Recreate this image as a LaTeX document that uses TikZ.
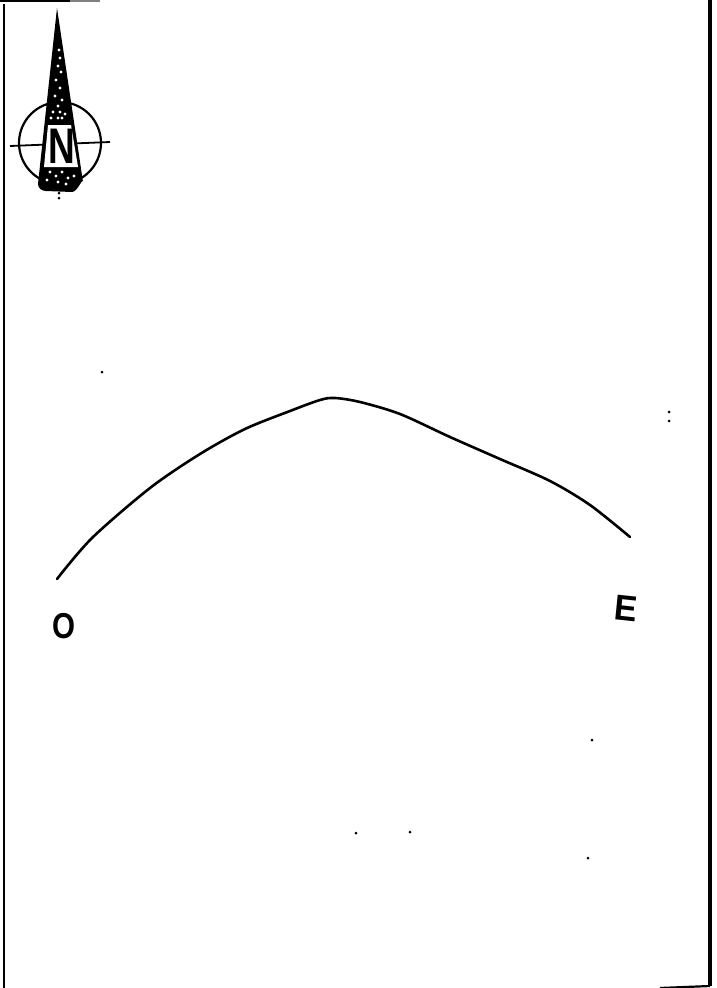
\documentclass[tikz,border=0pt]{standalone}
\usepackage{fontspec}
\setmainfont{Liberation Sans}
\usetikzlibrary{positioning}
\usetikzlibrary{calc}

\tikzset{
    frameline/.style={line width=3.2pt, black},
    arcline/.style={line width=2.6pt, black, line cap=round, line join=round},
    speck/.style={fill=white, draw=none},
    stray/.style={fill=black, draw=none, circle, inner sep=0pt, minimum size=3pt},
    handletter/.style={font=\bfseries\fontsize{36}{36}\selectfont, inner sep=0pt}
}

\begin{document}
\begin{tikzpicture}[x=1pt, y=-1pt]
    \useasboundingbox (0,0) rectangle (716,988);

    \coordinate (tl) at (4,4);
    \coordinate (bl) at (4,988);
    \coordinate (tr) at (710,0);
    \coordinate (br) at (710,986);
    \coordinate (bs) at (660,988);
    \coordinate (ts) at (70,1);
    \coordinate (tf) at (100,1);
    \coordinate (ta) at (0,1);

    % sheet edges
    \draw [line width=1.8pt] (tl) -- (bl);
    \draw [frameline] (tr) -- (br);
    \draw [line width=2.2pt] (bs) -- (br);
    \draw [line width=2pt] (ta) -- (ts);
    \draw [line width=1.4pt, gray] (ts) -- (tf);

    % north sign
    \coordinate (centre) at (60,143);
    \coordinate (wtick) at (10,146);
    \coordinate (etick) at (110,142);
    \coordinate (apex) at (57,8);
    \coordinate (bw) at (38,184);
    \coordinate (be) at (83,182);

    \draw [line width=2.2pt] (centre) circle (41);
    \draw [line width=1.8pt] (wtick) -- (etick);
    \fill (apex) -- (be) to[out=90, in=0] (72,192) -- (46,191) to[out=180, in=270] (bw) -- cycle;
    \fill [white] (48,125) -- (71,125) -- (78,167) -- (44,167) -- cycle;
    \node [font=\bfseries\fontsize{50}{50}\selectfont, inner sep=0pt, xscale=0.74] (north) at (62,146) {N};

    \foreach \x/\y in {59/50, 60/58, 58/66, 61/72, 56/80, 60/88, 55/96, 62/100, 58/106,
                       53/112, 60/112, 65/114, 51/118, 58/118, 62/118,
                       50/172, 56/176, 62/172, 68/178, 47/180, 58/182, 66/184, 74/176}
        \fill [speck] (\x,\y) circle (1.7);

    \coordinate (tail) at (59,198);
    \node [stray] (tailspot) at (tail) {};
    \node [stray] (tailspot2) at (59,193) {};

    % the arch
    \coordinate (wend) at (57,579);
    \coordinate (eend) at (630,537);
    \draw [arcline] plot [smooth, tension=0.5] coordinates {(wend) (92,538) (150,488) (200,454) (245,429)
        (290,411) (320,400) (335,398) (360,402) (400,414) (450,437) (500,459) (550,481) (590,505) (eend)};

    \node [handletter, xscale=0.82] (west) at (64,626) {O};
    \node [handletter, xscale=0.95, rotate=-6] (east) at (626,608) {E};

    % stray marks
    \foreach \x/\y [count=\i] in {102/372, 669/412, 669/421, 592/740, 356/833, 410/832, 588/858}
        \node [stray] (spot\i) at (\x,\y) {};
\end{tikzpicture}
\end{document}
